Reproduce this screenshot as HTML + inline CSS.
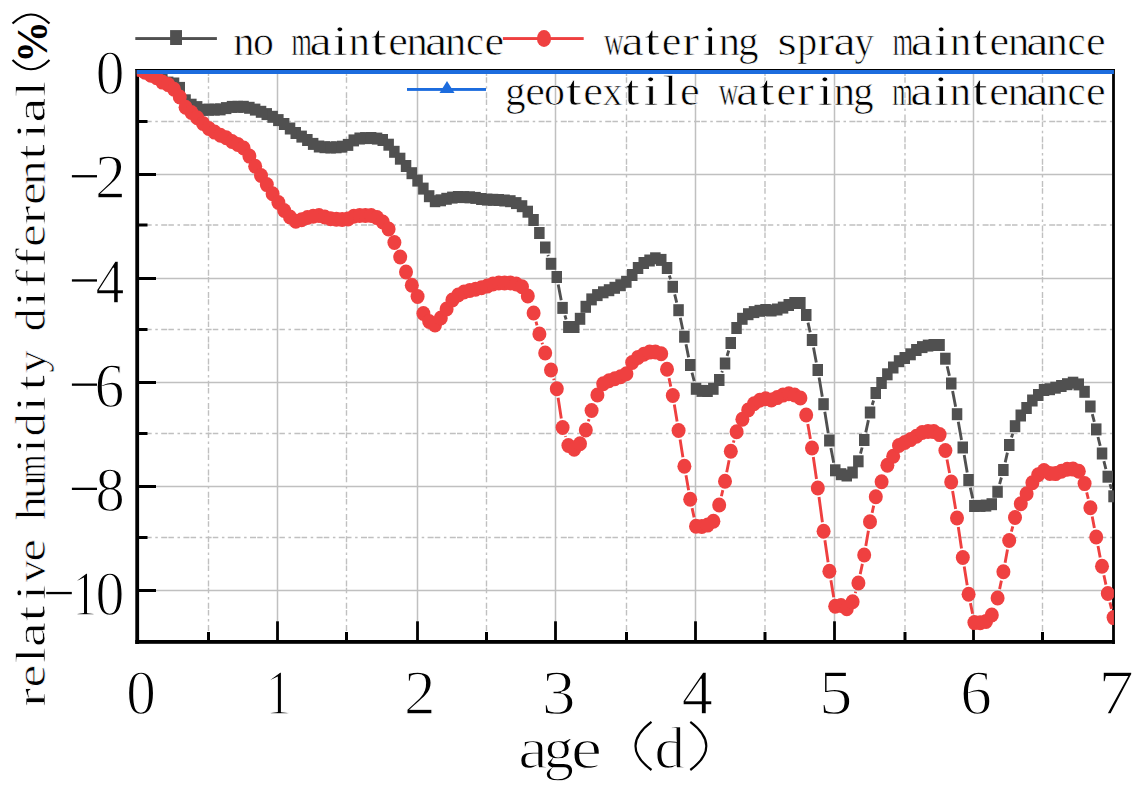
<!DOCTYPE html>
<html><head><meta charset="utf-8"><style>
html,body{margin:0;padding:0;background:#fff;}
svg{display:block;}
.gs{stroke:#c0c0c0;stroke-width:1.5;}
.gd{stroke:#c0c0c0;stroke-width:1.4;stroke-dasharray:6 1.2 5.5 3.6 2.5 3.4;}
text{font-family:"Liberation Serif",serif;fill:#000;}
.mt{font-size:43.0px;stroke:#fff;stroke-width:0.7px;}
.mtb{font-weight:bold;stroke:none;}
.tk{font-size:62.5px;stroke:#fff;stroke-width:1.3px;}
.tt{font-size:60px;stroke:#fff;stroke-width:1.3px;}
</style></head><body>
<svg width="1139" height="788" viewBox="0 0 1139 788"><rect x="0" y="0" width="1139" height="788" fill="#fff"/><g><line x1="208.5" y1="70" x2="208.5" y2="640" class="gd"/><line x1="277.5" y1="70" x2="277.5" y2="640" class="gs"/><line x1="346.5" y1="70" x2="346.5" y2="640" class="gd"/><line x1="417.5" y1="70" x2="417.5" y2="640" class="gs"/><line x1="486.5" y1="70" x2="486.5" y2="640" class="gd"/><line x1="555.5" y1="70" x2="555.5" y2="640" class="gs"/><line x1="626.5" y1="70" x2="626.5" y2="640" class="gd"/><line x1="695.5" y1="70" x2="695.5" y2="640" class="gs"/><line x1="765" y1="70" x2="765" y2="640" class="gd"/><line x1="834.5" y1="70" x2="834.5" y2="640" class="gs"/><line x1="905" y1="70" x2="905" y2="640" class="gd"/><line x1="973.5" y1="70" x2="973.5" y2="640" class="gs"/><line x1="1042.5" y1="70" x2="1042.5" y2="640" class="gd"/><line x1="139" y1="121.5" x2="1112" y2="121.5" class="gd"/><line x1="139" y1="174.5" x2="1112" y2="174.5" class="gs"/><line x1="139" y1="225" x2="1112" y2="225" class="gd"/><line x1="139" y1="278.5" x2="1112" y2="278.5" class="gs"/><line x1="139" y1="329.5" x2="1112" y2="329.5" class="gd"/><line x1="139" y1="382.5" x2="1112" y2="382.5" class="gs"/><line x1="139" y1="433.5" x2="1112" y2="433.5" class="gd"/><line x1="139" y1="486.5" x2="1112" y2="486.5" class="gs"/><line x1="139" y1="537.5" x2="1112" y2="537.5" class="gd"/><line x1="139" y1="590.5" x2="1112" y2="590.5" class="gs"/></g><rect x="135.3" y="69" width="3.8" height="575" fill="#000"/><rect x="135.3" y="640" width="979.6" height="3.8" fill="#000"/><rect x="1112.1" y="69" width="2.8" height="575" fill="#000"/><rect x="135.3" y="69" width="979.6" height="1" fill="#000"/><rect x="207.0" y="632" width="3" height="9" fill="#000"/><rect x="276.1" y="621.3" width="2.8" height="20" fill="#000"/><rect x="345.0" y="632" width="3" height="9" fill="#000"/><rect x="416.1" y="621.3" width="2.8" height="20" fill="#000"/><rect x="485.0" y="632" width="3" height="9" fill="#000"/><rect x="554.1" y="621.3" width="2.8" height="20" fill="#000"/><rect x="625.0" y="632" width="3" height="9" fill="#000"/><rect x="694.1" y="621.3" width="2.8" height="20" fill="#000"/><rect x="763.5" y="632" width="3" height="9" fill="#000"/><rect x="833.1" y="621.3" width="2.8" height="20" fill="#000"/><rect x="903.5" y="632" width="3" height="9" fill="#000"/><rect x="972.1" y="621.3" width="2.8" height="20" fill="#000"/><rect x="1041.0" y="632" width="3" height="9" fill="#000"/><rect x="138" y="120.0" width="9.5" height="3" fill="#000"/><rect x="138" y="173.0" width="18" height="3" fill="#000"/><rect x="138" y="223.5" width="9.5" height="3" fill="#000"/><rect x="138" y="277.0" width="18" height="3" fill="#000"/><rect x="138" y="328.0" width="9.5" height="3" fill="#000"/><rect x="138" y="381.0" width="18" height="3" fill="#000"/><rect x="138" y="432.0" width="9.5" height="3" fill="#000"/><rect x="138" y="485.0" width="18" height="3" fill="#000"/><rect x="138" y="536.0" width="9.5" height="3" fill="#000"/><rect x="138" y="589.0" width="18" height="3" fill="#000"/><defs><clipPath id="pc"><rect x="136.8" y="70" width="977.1" height="572"/></clipPath></defs><g clip-path="url(#pc)"><path d="M547.9,255.0L548.3,256.2M558.2,284.6L561.2,300.3M564.9,315.4L566.1,319.5M669.3,275.5L670.5,279.2M674.7,294.3L676.7,302.7M680.3,317.8L682.7,329.2M686.0,344.3L688.6,357.4M692.0,372.6L694.2,381.2M721.8,372.5L722.4,371.0M727.1,356.0L728.7,350.5M808.0,322.6L810.2,332.4M813.5,347.6L816.3,362.4M819.1,377.6L822.3,396.7M824.8,411.8L828.2,432.9M830.9,448.1L833.7,462.7M860.5,453.7L862.1,447.5M865.8,432.4L868.4,420.1M872.2,405.0L873.6,400.5M947.2,366.3L949.4,375.9M952.6,391.1L955.6,406.7M958.3,421.8L961.5,439.9M964.2,455.1L967.2,472.4M970.3,487.6L972.7,498.4M999.6,484.2L1001.4,477.5M1005.2,462.4L1007.4,452.6M1011.5,437.5L1012.7,433.8M1092.3,414.1L1094.3,421.8M1098.0,437.0L1100.2,445.9M1103.9,461.1L1105.9,469.1M1110.0,484.2L1111.4,488.8" fill="none" stroke="#505050" stroke-width="2.9"/><g fill="#505050"><rect x="133.9" y="63.5" width="10.5" height="12"/><rect x="139.8" y="64.5" width="10.5" height="12"/><rect x="145.5" y="65.9" width="10.5" height="12"/><rect x="151.3" y="68.0" width="10.5" height="12"/><rect x="157.1" y="72.0" width="10.5" height="12"/><rect x="162.9" y="76.6" width="10.5" height="12"/><rect x="168.8" y="77.5" width="10.5" height="12"/><rect x="174.5" y="81.9" width="10.5" height="12"/><rect x="180.3" y="94.3" width="10.5" height="12"/><rect x="186.1" y="98.7" width="10.5" height="12"/><rect x="191.9" y="101.1" width="10.5" height="12"/><rect x="197.8" y="103.8" width="10.5" height="12"/><rect x="203.5" y="103.7" width="10.5" height="12"/><rect x="209.3" y="103.6" width="10.5" height="12"/><rect x="215.1" y="103.4" width="10.5" height="12"/><rect x="220.9" y="102.1" width="10.5" height="12"/><rect x="226.8" y="100.9" width="10.5" height="12"/><rect x="232.5" y="100.8" width="10.5" height="12"/><rect x="238.3" y="100.8" width="10.5" height="12"/><rect x="244.1" y="101.8" width="10.5" height="12"/><rect x="249.9" y="103.6" width="10.5" height="12"/><rect x="255.8" y="105.8" width="10.5" height="12"/><rect x="261.5" y="108.1" width="10.5" height="12"/><rect x="267.4" y="110.8" width="10.5" height="12"/><rect x="273.1" y="114.1" width="10.5" height="12"/><rect x="278.9" y="118.0" width="10.5" height="12"/><rect x="284.8" y="122.5" width="10.5" height="12"/><rect x="290.5" y="127.0" width="10.5" height="12"/><rect x="296.4" y="130.6" width="10.5" height="12"/><rect x="302.1" y="134.0" width="10.5" height="12"/><rect x="307.9" y="137.9" width="10.5" height="12"/><rect x="313.8" y="140.5" width="10.5" height="12"/><rect x="319.5" y="141.2" width="10.5" height="12"/><rect x="325.4" y="141.5" width="10.5" height="12"/><rect x="331.1" y="141.3" width="10.5" height="12"/><rect x="336.9" y="140.7" width="10.5" height="12"/><rect x="342.8" y="138.9" width="10.5" height="12"/><rect x="348.5" y="134.4" width="10.5" height="12"/><rect x="354.4" y="132.5" width="10.5" height="12"/><rect x="360.1" y="132.1" width="10.5" height="12"/><rect x="365.9" y="132.0" width="10.5" height="12"/><rect x="371.8" y="132.6" width="10.5" height="12"/><rect x="377.5" y="134.0" width="10.5" height="12"/><rect x="383.4" y="138.7" width="10.5" height="12"/><rect x="389.1" y="145.8" width="10.5" height="12"/><rect x="394.9" y="152.7" width="10.5" height="12"/><rect x="400.8" y="160.0" width="10.5" height="12"/><rect x="406.5" y="167.2" width="10.5" height="12"/><rect x="412.3" y="174.6" width="10.5" height="12"/><rect x="418.1" y="182.6" width="10.5" height="12"/><rect x="423.9" y="190.2" width="10.5" height="12"/><rect x="429.8" y="195.2" width="10.5" height="12"/><rect x="435.5" y="194.3" width="10.5" height="12"/><rect x="441.3" y="192.8" width="10.5" height="12"/><rect x="447.1" y="191.6" width="10.5" height="12"/><rect x="452.9" y="191.0" width="10.5" height="12"/><rect x="458.8" y="191.1" width="10.5" height="12"/><rect x="464.5" y="191.3" width="10.5" height="12"/><rect x="470.3" y="191.9" width="10.5" height="12"/><rect x="476.1" y="193.0" width="10.5" height="12"/><rect x="481.9" y="193.6" width="10.5" height="12"/><rect x="487.8" y="193.8" width="10.5" height="12"/><rect x="493.5" y="194.0" width="10.5" height="12"/><rect x="499.3" y="194.5" width="10.5" height="12"/><rect x="505.1" y="195.2" width="10.5" height="12"/><rect x="511.0" y="197.1" width="10.5" height="12"/><rect x="516.8" y="200.2" width="10.5" height="12"/><rect x="522.5" y="205.7" width="10.5" height="12"/><rect x="528.3" y="214.0" width="10.5" height="12"/><rect x="534.1" y="227.0" width="10.5" height="12"/><rect x="540.0" y="241.5" width="10.5" height="12"/><rect x="545.8" y="257.8" width="10.5" height="12"/><rect x="551.5" y="271.0" width="10.5" height="12"/><rect x="557.3" y="301.9" width="10.5" height="12"/><rect x="563.1" y="321.0" width="10.5" height="12"/><rect x="569.0" y="321.0" width="10.5" height="12"/><rect x="574.8" y="312.8" width="10.5" height="12"/><rect x="580.5" y="300.8" width="10.5" height="12"/><rect x="586.3" y="293.4" width="10.5" height="12"/><rect x="592.1" y="289.1" width="10.5" height="12"/><rect x="598.0" y="286.3" width="10.5" height="12"/><rect x="603.8" y="284.2" width="10.5" height="12"/><rect x="609.5" y="281.8" width="10.5" height="12"/><rect x="615.3" y="279.2" width="10.5" height="12"/><rect x="621.1" y="275.8" width="10.5" height="12"/><rect x="627.0" y="269.0" width="10.5" height="12"/><rect x="632.8" y="262.0" width="10.5" height="12"/><rect x="638.5" y="257.0" width="10.5" height="12"/><rect x="644.3" y="254.5" width="10.5" height="12"/><rect x="650.1" y="252.3" width="10.5" height="12"/><rect x="656.0" y="253.9" width="10.5" height="12"/><rect x="661.8" y="262.0" width="10.5" height="12"/><rect x="667.5" y="280.8" width="10.5" height="12"/><rect x="673.3" y="304.2" width="10.5" height="12"/><rect x="679.1" y="330.7" width="10.5" height="12"/><rect x="685.0" y="359.0" width="10.5" height="12"/><rect x="690.8" y="382.8" width="10.5" height="12"/><rect x="696.5" y="384.9" width="10.5" height="12"/><rect x="702.3" y="385.0" width="10.5" height="12"/><rect x="708.1" y="382.8" width="10.5" height="12"/><rect x="714.0" y="374.0" width="10.5" height="12"/><rect x="719.8" y="357.5" width="10.5" height="12"/><rect x="725.5" y="337.0" width="10.5" height="12"/><rect x="731.3" y="322.0" width="10.5" height="12"/><rect x="737.1" y="312.8" width="10.5" height="12"/><rect x="743.0" y="308.2" width="10.5" height="12"/><rect x="748.8" y="306.1" width="10.5" height="12"/><rect x="754.5" y="304.8" width="10.5" height="12"/><rect x="760.3" y="304.0" width="10.5" height="12"/><rect x="766.1" y="304.5" width="10.5" height="12"/><rect x="772.0" y="303.5" width="10.5" height="12"/><rect x="777.8" y="301.6" width="10.5" height="12"/><rect x="783.5" y="299.0" width="10.5" height="12"/><rect x="789.3" y="297.0" width="10.5" height="12"/><rect x="795.1" y="297.0" width="10.5" height="12"/><rect x="801.0" y="309.0" width="10.5" height="12"/><rect x="806.8" y="334.0" width="10.5" height="12"/><rect x="812.5" y="364.0" width="10.5" height="12"/><rect x="818.3" y="398.2" width="10.5" height="12"/><rect x="824.1" y="434.5" width="10.5" height="12"/><rect x="830.0" y="464.3" width="10.5" height="12"/><rect x="835.8" y="468.2" width="10.5" height="12"/><rect x="841.5" y="469.5" width="10.5" height="12"/><rect x="847.3" y="466.5" width="10.5" height="12"/><rect x="853.1" y="455.3" width="10.5" height="12"/><rect x="859.0" y="434.0" width="10.5" height="12"/><rect x="864.8" y="406.5" width="10.5" height="12"/><rect x="870.5" y="387.0" width="10.5" height="12"/><rect x="876.3" y="377.0" width="10.5" height="12"/><rect x="882.1" y="368.3" width="10.5" height="12"/><rect x="888.0" y="361.5" width="10.5" height="12"/><rect x="893.8" y="355.2" width="10.5" height="12"/><rect x="899.5" y="352.0" width="10.5" height="12"/><rect x="905.3" y="348.3" width="10.5" height="12"/><rect x="911.1" y="344.0" width="10.5" height="12"/><rect x="917.0" y="341.1" width="10.5" height="12"/><rect x="922.8" y="339.6" width="10.5" height="12"/><rect x="928.5" y="339.0" width="10.5" height="12"/><rect x="934.3" y="339.0" width="10.5" height="12"/><rect x="940.1" y="352.7" width="10.5" height="12"/><rect x="946.0" y="377.5" width="10.5" height="12"/><rect x="951.8" y="408.2" width="10.5" height="12"/><rect x="957.5" y="441.5" width="10.5" height="12"/><rect x="963.3" y="474.0" width="10.5" height="12"/><rect x="969.1" y="500.0" width="10.5" height="12"/><rect x="975.0" y="499.9" width="10.5" height="12"/><rect x="980.8" y="499.6" width="10.5" height="12"/><rect x="986.5" y="498.2" width="10.5" height="12"/><rect x="992.3" y="485.8" width="10.5" height="12"/><rect x="998.1" y="464.0" width="10.5" height="12"/><rect x="1004.0" y="439.0" width="10.5" height="12"/><rect x="1009.8" y="420.2" width="10.5" height="12"/><rect x="1015.5" y="409.5" width="10.5" height="12"/><rect x="1021.3" y="402.0" width="10.5" height="12"/><rect x="1027.1" y="394.5" width="10.5" height="12"/><rect x="1033.0" y="389.0" width="10.5" height="12"/><rect x="1038.8" y="384.0" width="10.5" height="12"/><rect x="1044.5" y="383.2" width="10.5" height="12"/><rect x="1050.3" y="381.7" width="10.5" height="12"/><rect x="1056.1" y="380.0" width="10.5" height="12"/><rect x="1062.0" y="378.2" width="10.5" height="12"/><rect x="1067.8" y="376.7" width="10.5" height="12"/><rect x="1073.5" y="378.4" width="10.5" height="12"/><rect x="1079.3" y="385.8" width="10.5" height="12"/><rect x="1085.1" y="400.5" width="10.5" height="12"/><rect x="1091.0" y="423.4" width="10.5" height="12"/><rect x="1096.8" y="447.5" width="10.5" height="12"/><rect x="1102.5" y="470.7" width="10.5" height="12"/><rect x="1108.3" y="490.3" width="10.5" height="12"/></g><path d="M536.0,321.7L537.0,325.3M542.0,342.7L542.6,344.3M553.7,378.6L554.1,380.1M558.1,397.7L561.3,418.5M565.4,436.1L565.6,436.9M588.4,421.3L589.0,419.2M669.0,378.1L670.8,386.6M674.3,404.5L677.1,421.5M680.1,439.5L682.9,457.3M686.0,475.2L688.6,490.3M692.1,508.1L694.1,517.4M721.4,496.2L722.8,490.1M726.7,472.3L729.1,460.2M733.4,442.6L734.0,440.4M807.8,423.9L810.4,439.1M813.3,457.0L816.5,479.0M819.0,497.0L822.4,522.2M824.9,540.2L828.1,562.3M830.9,580.2L833.7,597.3M855.3,593.1L855.7,591.6M860.2,574.1L862.4,563.9M865.8,546.1L868.4,530.7M872.1,512.9L873.7,505.6M947.0,459.4L949.6,473.1M952.6,491.0L955.6,509.0M958.3,527.0L961.5,548.5M964.2,566.5L967.2,585.3M970.4,603.1L972.6,613.7M999.6,589.1L1001.4,580.6M1005.1,562.8L1007.5,549.4M1011.4,531.7L1012.8,526.3M1086.7,492.4L1088.3,498.9M1092.2,516.6L1094.4,528.1M1098.0,545.9L1100.2,557.4M1103.9,575.2L1105.9,584.6M1109.9,602.3L1111.5,608.8" fill="none" stroke="#ef4040" stroke-width="2.9"/><g fill="#ef4040"><ellipse cx="139.2" cy="69.5" rx="7" ry="7.5"/><ellipse cx="145.0" cy="72.2" rx="7" ry="7.5"/><ellipse cx="150.8" cy="75.3" rx="7" ry="7.5"/><ellipse cx="156.6" cy="77.8" rx="7" ry="7.5"/><ellipse cx="162.4" cy="82.1" rx="7" ry="7.5"/><ellipse cx="168.2" cy="84.6" rx="7" ry="7.5"/><ellipse cx="174.0" cy="89.2" rx="7" ry="7.5"/><ellipse cx="179.8" cy="97.0" rx="7" ry="7.5"/><ellipse cx="185.6" cy="107.3" rx="7" ry="7.5"/><ellipse cx="191.4" cy="112.5" rx="7" ry="7.5"/><ellipse cx="197.2" cy="117.8" rx="7" ry="7.5"/><ellipse cx="203.0" cy="123.4" rx="7" ry="7.5"/><ellipse cx="208.8" cy="128.4" rx="7" ry="7.5"/><ellipse cx="214.6" cy="132.1" rx="7" ry="7.5"/><ellipse cx="220.4" cy="135.2" rx="7" ry="7.5"/><ellipse cx="226.2" cy="137.7" rx="7" ry="7.5"/><ellipse cx="232.0" cy="141.5" rx="7" ry="7.5"/><ellipse cx="237.8" cy="144.4" rx="7" ry="7.5"/><ellipse cx="243.6" cy="148.0" rx="7" ry="7.5"/><ellipse cx="249.4" cy="156.1" rx="7" ry="7.5"/><ellipse cx="255.2" cy="166.3" rx="7" ry="7.5"/><ellipse cx="261.0" cy="175.5" rx="7" ry="7.5"/><ellipse cx="266.8" cy="184.6" rx="7" ry="7.5"/><ellipse cx="272.6" cy="193.8" rx="7" ry="7.5"/><ellipse cx="278.4" cy="202.5" rx="7" ry="7.5"/><ellipse cx="284.2" cy="210.5" rx="7" ry="7.5"/><ellipse cx="290.0" cy="217.0" rx="7" ry="7.5"/><ellipse cx="295.8" cy="221.2" rx="7" ry="7.5"/><ellipse cx="301.6" cy="219.7" rx="7" ry="7.5"/><ellipse cx="307.4" cy="217.5" rx="7" ry="7.5"/><ellipse cx="313.2" cy="216.2" rx="7" ry="7.5"/><ellipse cx="319.0" cy="215.5" rx="7" ry="7.5"/><ellipse cx="324.8" cy="217.0" rx="7" ry="7.5"/><ellipse cx="330.6" cy="218.8" rx="7" ry="7.5"/><ellipse cx="336.4" cy="219.2" rx="7" ry="7.5"/><ellipse cx="342.2" cy="219.5" rx="7" ry="7.5"/><ellipse cx="348.0" cy="218.9" rx="7" ry="7.5"/><ellipse cx="353.8" cy="216.3" rx="7" ry="7.5"/><ellipse cx="359.6" cy="215.5" rx="7" ry="7.5"/><ellipse cx="365.4" cy="215.5" rx="7" ry="7.5"/><ellipse cx="371.2" cy="215.5" rx="7" ry="7.5"/><ellipse cx="377.0" cy="217.6" rx="7" ry="7.5"/><ellipse cx="382.8" cy="222.0" rx="7" ry="7.5"/><ellipse cx="388.6" cy="229.0" rx="7" ry="7.5"/><ellipse cx="394.4" cy="242.5" rx="7" ry="7.5"/><ellipse cx="400.2" cy="257.0" rx="7" ry="7.5"/><ellipse cx="406.0" cy="272.0" rx="7" ry="7.5"/><ellipse cx="411.8" cy="285.2" rx="7" ry="7.5"/><ellipse cx="417.6" cy="296.5" rx="7" ry="7.5"/><ellipse cx="423.4" cy="313.5" rx="7" ry="7.5"/><ellipse cx="429.2" cy="321.5" rx="7" ry="7.5"/><ellipse cx="435.0" cy="325.0" rx="7" ry="7.5"/><ellipse cx="440.8" cy="318.0" rx="7" ry="7.5"/><ellipse cx="446.6" cy="309.0" rx="7" ry="7.5"/><ellipse cx="452.4" cy="300.0" rx="7" ry="7.5"/><ellipse cx="458.2" cy="295.0" rx="7" ry="7.5"/><ellipse cx="464.0" cy="292.0" rx="7" ry="7.5"/><ellipse cx="469.8" cy="290.4" rx="7" ry="7.5"/><ellipse cx="475.6" cy="289.3" rx="7" ry="7.5"/><ellipse cx="481.4" cy="287.8" rx="7" ry="7.5"/><ellipse cx="487.2" cy="286.1" rx="7" ry="7.5"/><ellipse cx="493.0" cy="284.0" rx="7" ry="7.5"/><ellipse cx="498.8" cy="283.0" rx="7" ry="7.5"/><ellipse cx="504.6" cy="283.0" rx="7" ry="7.5"/><ellipse cx="510.4" cy="283.0" rx="7" ry="7.5"/><ellipse cx="516.2" cy="284.0" rx="7" ry="7.5"/><ellipse cx="522.0" cy="286.8" rx="7" ry="7.5"/><ellipse cx="527.8" cy="296.0" rx="7" ry="7.5"/><ellipse cx="533.6" cy="313.0" rx="7" ry="7.5"/><ellipse cx="539.4" cy="334.0" rx="7" ry="7.5"/><ellipse cx="545.2" cy="353.0" rx="7" ry="7.5"/><ellipse cx="551.0" cy="370.0" rx="7" ry="7.5"/><ellipse cx="556.8" cy="388.8" rx="7" ry="7.5"/><ellipse cx="562.6" cy="427.5" rx="7" ry="7.5"/><ellipse cx="568.4" cy="445.5" rx="7" ry="7.5"/><ellipse cx="574.2" cy="449.2" rx="7" ry="7.5"/><ellipse cx="580.0" cy="443.8" rx="7" ry="7.5"/><ellipse cx="585.8" cy="430.0" rx="7" ry="7.5"/><ellipse cx="591.6" cy="410.5" rx="7" ry="7.5"/><ellipse cx="597.4" cy="395.0" rx="7" ry="7.5"/><ellipse cx="603.2" cy="383.8" rx="7" ry="7.5"/><ellipse cx="609.0" cy="380.8" rx="7" ry="7.5"/><ellipse cx="614.8" cy="378.8" rx="7" ry="7.5"/><ellipse cx="620.6" cy="376.7" rx="7" ry="7.5"/><ellipse cx="626.4" cy="373.8" rx="7" ry="7.5"/><ellipse cx="632.2" cy="362.5" rx="7" ry="7.5"/><ellipse cx="638.0" cy="357.4" rx="7" ry="7.5"/><ellipse cx="643.8" cy="354.2" rx="7" ry="7.5"/><ellipse cx="649.6" cy="352.1" rx="7" ry="7.5"/><ellipse cx="655.4" cy="352.0" rx="7" ry="7.5"/><ellipse cx="661.2" cy="353.8" rx="7" ry="7.5"/><ellipse cx="667.0" cy="369.2" rx="7" ry="7.5"/><ellipse cx="672.8" cy="395.5" rx="7" ry="7.5"/><ellipse cx="678.6" cy="430.5" rx="7" ry="7.5"/><ellipse cx="684.4" cy="466.2" rx="7" ry="7.5"/><ellipse cx="690.2" cy="499.2" rx="7" ry="7.5"/><ellipse cx="696.0" cy="526.2" rx="7" ry="7.5"/><ellipse cx="701.8" cy="526.5" rx="7" ry="7.5"/><ellipse cx="707.6" cy="525.1" rx="7" ry="7.5"/><ellipse cx="713.4" cy="521.3" rx="7" ry="7.5"/><ellipse cx="719.2" cy="505.0" rx="7" ry="7.5"/><ellipse cx="725.0" cy="481.2" rx="7" ry="7.5"/><ellipse cx="730.8" cy="451.2" rx="7" ry="7.5"/><ellipse cx="736.6" cy="431.8" rx="7" ry="7.5"/><ellipse cx="742.4" cy="419.3" rx="7" ry="7.5"/><ellipse cx="748.2" cy="410.0" rx="7" ry="7.5"/><ellipse cx="754.0" cy="403.7" rx="7" ry="7.5"/><ellipse cx="759.8" cy="400.2" rx="7" ry="7.5"/><ellipse cx="765.6" cy="398.8" rx="7" ry="7.5"/><ellipse cx="771.4" cy="400.0" rx="7" ry="7.5"/><ellipse cx="777.2" cy="397.6" rx="7" ry="7.5"/><ellipse cx="783.0" cy="395.1" rx="7" ry="7.5"/><ellipse cx="788.8" cy="393.8" rx="7" ry="7.5"/><ellipse cx="794.6" cy="395.0" rx="7" ry="7.5"/><ellipse cx="800.4" cy="398.0" rx="7" ry="7.5"/><ellipse cx="806.2" cy="415.0" rx="7" ry="7.5"/><ellipse cx="812.0" cy="448.0" rx="7" ry="7.5"/><ellipse cx="817.8" cy="488.0" rx="7" ry="7.5"/><ellipse cx="823.6" cy="531.2" rx="7" ry="7.5"/><ellipse cx="829.4" cy="571.2" rx="7" ry="7.5"/><ellipse cx="835.2" cy="606.2" rx="7" ry="7.5"/><ellipse cx="841.0" cy="605.5" rx="7" ry="7.5"/><ellipse cx="846.8" cy="608.8" rx="7" ry="7.5"/><ellipse cx="852.6" cy="601.8" rx="7" ry="7.5"/><ellipse cx="858.4" cy="583.0" rx="7" ry="7.5"/><ellipse cx="864.2" cy="555.0" rx="7" ry="7.5"/><ellipse cx="870.0" cy="521.8" rx="7" ry="7.5"/><ellipse cx="875.8" cy="496.8" rx="7" ry="7.5"/><ellipse cx="881.6" cy="481.8" rx="7" ry="7.5"/><ellipse cx="887.4" cy="465.2" rx="7" ry="7.5"/><ellipse cx="893.2" cy="456.2" rx="7" ry="7.5"/><ellipse cx="899.0" cy="445.5" rx="7" ry="7.5"/><ellipse cx="904.8" cy="442.5" rx="7" ry="7.5"/><ellipse cx="910.6" cy="439.6" rx="7" ry="7.5"/><ellipse cx="916.4" cy="436.3" rx="7" ry="7.5"/><ellipse cx="922.2" cy="432.5" rx="7" ry="7.5"/><ellipse cx="928.0" cy="431.4" rx="7" ry="7.5"/><ellipse cx="933.8" cy="431.6" rx="7" ry="7.5"/><ellipse cx="939.6" cy="434.6" rx="7" ry="7.5"/><ellipse cx="945.4" cy="450.5" rx="7" ry="7.5"/><ellipse cx="951.2" cy="482.0" rx="7" ry="7.5"/><ellipse cx="957.0" cy="518.0" rx="7" ry="7.5"/><ellipse cx="962.8" cy="557.5" rx="7" ry="7.5"/><ellipse cx="968.6" cy="594.2" rx="7" ry="7.5"/><ellipse cx="974.4" cy="622.6" rx="7" ry="7.5"/><ellipse cx="980.2" cy="622.8" rx="7" ry="7.5"/><ellipse cx="986.0" cy="621.4" rx="7" ry="7.5"/><ellipse cx="991.8" cy="615.0" rx="7" ry="7.5"/><ellipse cx="997.6" cy="598.0" rx="7" ry="7.5"/><ellipse cx="1003.4" cy="571.8" rx="7" ry="7.5"/><ellipse cx="1009.2" cy="540.5" rx="7" ry="7.5"/><ellipse cx="1015.0" cy="517.5" rx="7" ry="7.5"/><ellipse cx="1020.8" cy="503.8" rx="7" ry="7.5"/><ellipse cx="1026.6" cy="493.8" rx="7" ry="7.5"/><ellipse cx="1032.4" cy="482.7" rx="7" ry="7.5"/><ellipse cx="1038.2" cy="474.7" rx="7" ry="7.5"/><ellipse cx="1044.0" cy="470.5" rx="7" ry="7.5"/><ellipse cx="1049.8" cy="473.4" rx="7" ry="7.5"/><ellipse cx="1055.6" cy="473.6" rx="7" ry="7.5"/><ellipse cx="1061.4" cy="471.3" rx="7" ry="7.5"/><ellipse cx="1067.2" cy="469.2" rx="7" ry="7.5"/><ellipse cx="1073.0" cy="469.1" rx="7" ry="7.5"/><ellipse cx="1078.8" cy="471.2" rx="7" ry="7.5"/><ellipse cx="1084.6" cy="483.6" rx="7" ry="7.5"/><ellipse cx="1090.4" cy="507.7" rx="7" ry="7.5"/><ellipse cx="1096.2" cy="537.0" rx="7" ry="7.5"/><ellipse cx="1102.0" cy="566.3" rx="7" ry="7.5"/><ellipse cx="1107.8" cy="593.5" rx="7" ry="7.5"/><ellipse cx="1113.6" cy="617.6" rx="7" ry="7.5"/></g></g><rect x="136.8" y="70" width="977.1" height="4" fill="#1c6cde"/><rect x="135.3" y="37.1" width="81.6" height="2.9" fill="#505050"/><rect x="170.1" y="30.1" width="11.9" height="14.9" fill="#505050"/><rect x="502.9" y="37.1" width="80.8" height="2.9" fill="#ef4040"/><ellipse cx="544" cy="38.5" rx="7.1" ry="8.4" fill="#ef4040"/><rect x="407" y="88" width="79" height="2.9" fill="#1c6cde"/><polygon points="447,81 439.5,93 454.5,93" fill="#1c6cde"/><text class="mt" transform="translate(244.10,54.60) scale(0.989,1)" x="-10.92">n</text><text class="mt" transform="translate(263.35,54.60) scale(0.972,1)" x="-10.75">o</text><text class="mt" transform="translate(301.86,54.60) scale(0.610,1)" x="-16.84">m</text><text class="mt" transform="translate(321.12,54.60) scale(1.168,1)" x="-10.00">a</text><text class="mt" transform="translate(340.37,54.60) scale(1.300,1)" x="-6.02">i</text><text class="mt" transform="translate(359.62,54.60) scale(0.989,1)" x="-10.92">n</text><text class="mt" transform="translate(378.88,54.60) scale(1.300,1)" x="-6.06">t</text><text class="mt" transform="translate(398.13,54.60) scale(1.028,1)" x="-9.64">e</text><text class="mt" transform="translate(417.38,54.60) scale(0.989,1)" x="-10.92">n</text><text class="mt" transform="translate(436.64,54.60) scale(1.168,1)" x="-10.00">a</text><text class="mt" transform="translate(455.89,54.60) scale(0.989,1)" x="-10.92">n</text><text class="mt" transform="translate(475.15,54.60) scale(0.943,1)" x="-9.70">c</text><text class="mt" transform="translate(494.40,54.60) scale(1.028,1)" x="-9.64">e</text><text class="mt" transform="translate(613.80,54.60) scale(0.632,1)" x="-15.45">w</text><text class="mt" transform="translate(633.08,54.60) scale(1.169,1)" x="-10.00">a</text><text class="mt" transform="translate(652.37,54.60) scale(1.300,1)" x="-6.06">t</text><text class="mt" transform="translate(671.65,54.60) scale(1.030,1)" x="-9.64">e</text><text class="mt" transform="translate(690.94,54.60) scale(1.179,1)" x="-7.40">r</text><text class="mt" transform="translate(710.22,54.60) scale(1.300,1)" x="-6.02">i</text><text class="mt" transform="translate(729.50,54.60) scale(0.990,1)" x="-10.92">n</text><text class="mt" transform="translate(748.79,54.60) scale(0.942,1)" x="-11.26">g</text><text class="mt" transform="translate(787.36,54.60) scale(1.150,1)" x="-8.47">s</text><text class="mt" transform="translate(806.64,54.60) scale(0.928,1)" x="-10.26">p</text><text class="mt" transform="translate(825.92,54.60) scale(1.179,1)" x="-7.40">r</text><text class="mt" transform="translate(845.21,54.60) scale(1.169,1)" x="-10.00">a</text><text class="mt" transform="translate(864.49,54.60) scale(0.908,1)" x="-10.93">y</text><text class="mt" transform="translate(903.06,54.60) scale(0.611,1)" x="-16.84">m</text><text class="mt" transform="translate(922.34,54.60) scale(1.169,1)" x="-10.00">a</text><text class="mt" transform="translate(941.63,54.60) scale(1.300,1)" x="-6.02">i</text><text class="mt" transform="translate(960.91,54.60) scale(0.990,1)" x="-10.92">n</text><text class="mt" transform="translate(980.20,54.60) scale(1.300,1)" x="-6.06">t</text><text class="mt" transform="translate(999.48,54.60) scale(1.030,1)" x="-9.64">e</text><text class="mt" transform="translate(1018.76,54.60) scale(0.990,1)" x="-10.92">n</text><text class="mt" transform="translate(1038.05,54.60) scale(1.169,1)" x="-10.00">a</text><text class="mt" transform="translate(1057.33,54.60) scale(0.990,1)" x="-10.92">n</text><text class="mt" transform="translate(1076.62,54.60) scale(0.945,1)" x="-9.70">c</text><text class="mt" transform="translate(1095.90,54.60) scale(1.030,1)" x="-9.64">e</text><text class="mt" transform="translate(515.80,105.00) scale(0.945,1)" x="-11.26">g</text><text class="mt" transform="translate(535.14,105.00) scale(1.033,1)" x="-9.64">e</text><text class="mt" transform="translate(554.47,105.00) scale(0.976,1)" x="-10.75">o</text><text class="mt" transform="translate(573.81,105.00) scale(1.300,1)" x="-6.06">t</text><text class="mt" transform="translate(593.15,105.00) scale(1.033,1)" x="-9.64">e</text><text class="mt" transform="translate(612.48,105.00) scale(0.920,1)" x="-10.68">x</text><text class="mt" transform="translate(631.82,105.00) scale(1.300,1)" x="-6.06">t</text><text class="mt" transform="translate(651.16,105.00) scale(1.300,1)" x="-6.02">i</text><text class="mt" transform="translate(670.49,105.00) scale(1.300,1)" x="-5.97">l</text><text class="mt" transform="translate(689.83,105.00) scale(1.033,1)" x="-9.64">e</text><text class="mt" transform="translate(728.50,105.00) scale(0.634,1)" x="-15.45">w</text><text class="mt" transform="translate(747.84,105.00) scale(1.173,1)" x="-10.00">a</text><text class="mt" transform="translate(767.18,105.00) scale(1.300,1)" x="-6.06">t</text><text class="mt" transform="translate(786.51,105.00) scale(1.033,1)" x="-9.64">e</text><text class="mt" transform="translate(805.85,105.00) scale(1.183,1)" x="-7.40">r</text><text class="mt" transform="translate(825.19,105.00) scale(1.300,1)" x="-6.02">i</text><text class="mt" transform="translate(844.52,105.00) scale(0.993,1)" x="-10.92">n</text><text class="mt" transform="translate(863.86,105.00) scale(0.945,1)" x="-11.26">g</text><text class="mt" transform="translate(902.53,105.00) scale(0.613,1)" x="-16.84">m</text><text class="mt" transform="translate(921.87,105.00) scale(1.173,1)" x="-10.00">a</text><text class="mt" transform="translate(941.21,105.00) scale(1.300,1)" x="-6.02">i</text><text class="mt" transform="translate(960.54,105.00) scale(0.993,1)" x="-10.92">n</text><text class="mt" transform="translate(979.88,105.00) scale(1.300,1)" x="-6.06">t</text><text class="mt" transform="translate(999.22,105.00) scale(1.033,1)" x="-9.64">e</text><text class="mt" transform="translate(1018.55,105.00) scale(0.993,1)" x="-10.92">n</text><text class="mt" transform="translate(1037.89,105.00) scale(1.173,1)" x="-10.00">a</text><text class="mt" transform="translate(1057.23,105.00) scale(0.993,1)" x="-10.92">n</text><text class="mt" transform="translate(1076.56,105.00) scale(0.947,1)" x="-9.70">c</text><text class="mt" transform="translate(1095.90,105.00) scale(1.033,1)" x="-9.64">e</text><g transform="translate(45.1,697.75) rotate(-90)"><text class="mt" transform="translate(0.00,0.00) scale(1.300,1)" x="-6.97">r</text><text class="mt" transform="translate(20.98,0.00) scale(1.190,1)" x="-9.08">e</text><text class="mt" transform="translate(41.96,0.00) scale(1.300,1)" x="-5.63">l</text><text class="mt" transform="translate(62.94,0.00) scale(1.300,1)" x="-9.42">a</text><text class="mt" transform="translate(83.92,0.00) scale(1.300,1)" x="-5.71">t</text><text class="mt" transform="translate(104.91,0.00) scale(1.300,1)" x="-5.67">i</text><text class="mt" transform="translate(125.89,0.00) scale(1.015,1)" x="-10.12">v</text><text class="mt" transform="translate(146.87,0.00) scale(1.190,1)" x="-9.08">e</text><text class="mt" transform="translate(188.83,0.00) scale(1.108,1)" x="-10.06">h</text><text class="mt" transform="translate(209.81,0.00) scale(1.125,1)" x="-10.05">u</text><text class="mt" transform="translate(230.79,0.00) scale(0.706,1)" x="-15.86">m</text><text class="mt" transform="translate(251.77,0.00) scale(1.300,1)" x="-5.67">i</text><text class="mt" transform="translate(272.75,0.00) scale(1.055,1)" x="-10.61">d</text><text class="mt" transform="translate(293.73,0.00) scale(1.300,1)" x="-5.67">i</text><text class="mt" transform="translate(314.72,0.00) scale(1.300,1)" x="-5.71">t</text><text class="mt" transform="translate(335.70,0.00) scale(1.049,1)" x="-10.29">y</text><text class="mt" transform="translate(377.66,0.00) scale(1.055,1)" x="-10.61">d</text><text class="mt" transform="translate(398.64,0.00) scale(1.300,1)" x="-5.67">i</text><text class="mt" transform="translate(419.62,0.00) scale(1.300,1)" x="-7.37">f</text><text class="mt" transform="translate(440.60,0.00) scale(1.300,1)" x="-7.37">f</text><text class="mt" transform="translate(461.58,0.00) scale(1.190,1)" x="-9.08">e</text><text class="mt" transform="translate(482.56,0.00) scale(1.300,1)" x="-6.97">r</text><text class="mt" transform="translate(503.54,0.00) scale(1.190,1)" x="-9.08">e</text><text class="mt" transform="translate(524.53,0.00) scale(1.144,1)" x="-10.28">n</text><text class="mt" transform="translate(545.51,0.00) scale(1.300,1)" x="-5.71">t</text><text class="mt" transform="translate(566.49,0.00) scale(1.300,1)" x="-5.67">i</text><text class="mt" transform="translate(587.47,0.00) scale(1.300,1)" x="-9.42">a</text><text class="mt" transform="translate(608.45,0.00) scale(1.300,1)" x="-5.63">l</text></g><path d="M12.5,59.9 Q31,78.6 49.5,59.9" fill="none" stroke="#000" stroke-width="2.1"/><path d="M12.5,23.6 Q31,5.4 49.5,23.6" fill="none" stroke="#000" stroke-width="2.1"/><g transform="translate(46.5,697.75) rotate(-90)"><text class="mtb" style="font-size:44px" transform="translate(652.45,0.00) scale(0.950,1.000)" x="-18.33">%</text></g><text class="tk" transform="translate(95.82,94.28) scale(0.917,1)">0</text><text class="tk" transform="translate(95.08,198.48) scale(0.990,1)">2</text><rect x="71.9" y="175.1" width="25.1" height="2.3" fill="#000"/><text class="tk" transform="translate(95.57,302.68) scale(0.926,1)">4</text><rect x="71.9" y="279.3" width="25.1" height="2.3" fill="#000"/><text class="tk" transform="translate(94.54,406.88) scale(0.955,1)">6</text><rect x="71.9" y="383.5" width="25.1" height="2.3" fill="#000"/><text class="tk" transform="translate(95.57,511.08) scale(0.936,1)">8</text><rect x="71.9" y="487.7" width="25.1" height="2.3" fill="#000"/><text class="tk" transform="translate(72.66,615.28) scale(0.773,1)">1</text><text class="tk" transform="translate(95.60,615.28) scale(0.925,1)">0</text><rect x="46.2" y="591.9" width="25.6" height="2.3" fill="#000"/><text class="tk" transform="translate(126.14,713.56) scale(0.948,1)">0</text><text class="tk" transform="translate(266.33,713.56) scale(0.795,1)">1</text><text class="tk" transform="translate(403.93,713.56) scale(1.010,1)">2</text><text class="tk" transform="translate(541.76,713.56) scale(1.085,1)">3</text><text class="tk" transform="translate(681.78,713.56) scale(0.998,1)">4</text><text class="tk" transform="translate(819.11,713.56) scale(1.072,1)">5</text><text class="tk" transform="translate(960.28,713.56) scale(1.011,1)">6</text><text class="tk" transform="translate(1098.28,713.56) scale(1.145,1)">7</text><text class="tt" style="font-size:60px" transform="translate(518.37,767.50) scale(1.105,1)">a</text><text class="tt" style="font-size:60px" transform="translate(543.38,767.50) scale(1.016,1)">g</text><text class="tt" style="font-size:60px" transform="translate(570.88,767.50) scale(1.162,1)">e</text><text class="tt" style="font-size:60px" transform="translate(654.39,767.50) scale(1.018,1)">d</text><path d="M651.5,721.8 Q619.5,745.9 651.5,770" fill="none" stroke="#000" stroke-width="2.2"/><path d="M690.3,721.8 Q722.3,745.9 690.3,770" fill="none" stroke="#000" stroke-width="2.2"/></svg>
</body></html>
